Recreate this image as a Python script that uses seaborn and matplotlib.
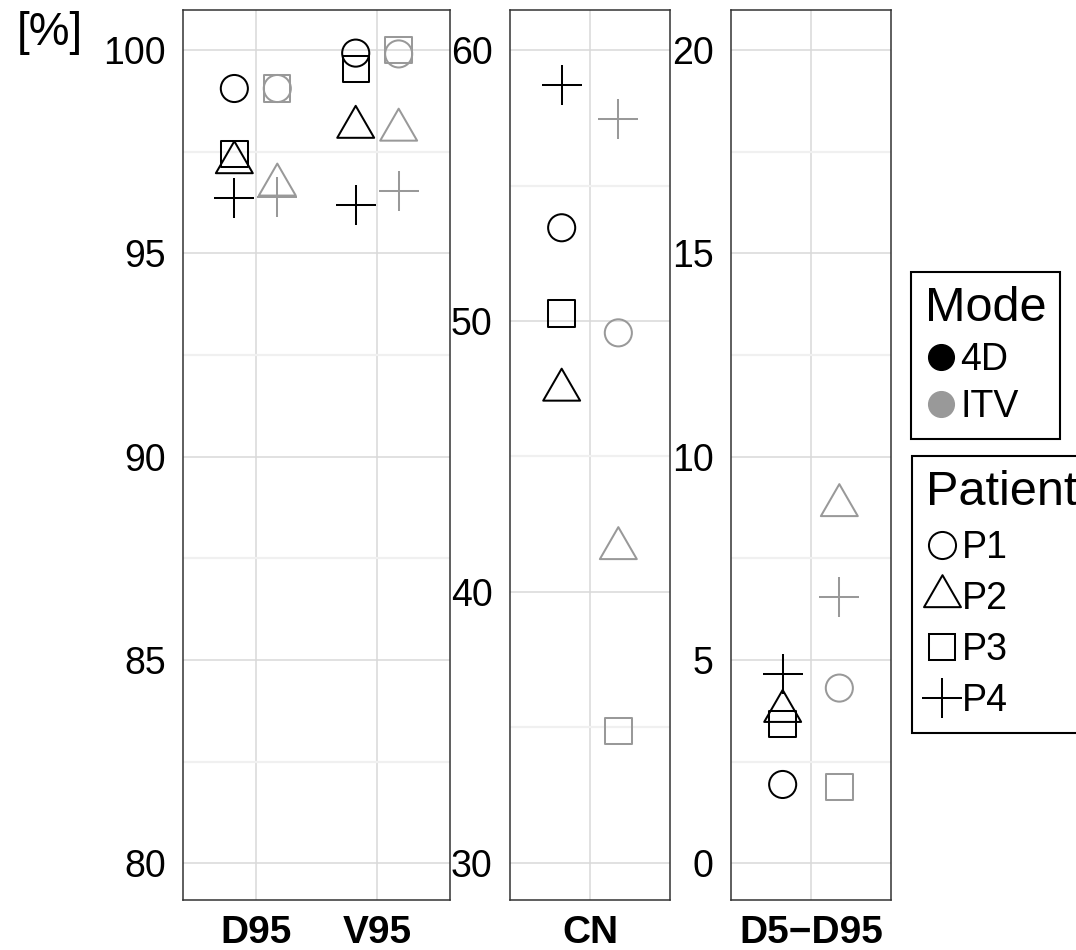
import numpy as np
import pandas as pd
import matplotlib
matplotlib.use("Agg")
import matplotlib.pyplot as plt
from matplotlib.path import Path
from matplotlib.lines import Line2D
import seaborn as sns

# ---- data -------------------------------------------------------------
metrics = ["D95", "V95", "CN", "D5\u2212D95"]
modes = ["4D", "ITV"]
patients = ["P1", "P2", "P3", "P4"]

d95_4d = [99.05, 97.23, 97.44, 96.37]
d95_itv = [99.05, 96.68, 99.05, 96.39]
v95_4d = [99.92, 98.10, 99.53, 96.19]
v95_itv = [99.90, 98.03, 100.00, 96.54]
cn_4d = [53.44, 47.45, 50.28, 58.71]
cn_itv = [49.56, 41.60, 34.86, 57.44]
d5d95_4d = [1.94, 3.74, 3.42, 4.66]
d5d95_itv = [4.31, 8.80, 1.88, 6.56]

panel_metrics = [["D95", "V95"], ["CN"], ["D5\u2212D95"]]
panel_yticks = [[80, 85, 90, 95, 100], [30, 40, 50, 60], [0, 5, 10, 15, 20]]
panel_ylims = [(79.10, 100.98), (28.62, 61.48), (-0.90, 20.98)]

# ---- long table -------------------------------------------------------
series = {
    "D95": (d95_4d, d95_itv),
    "V95": (v95_4d, v95_itv),
    "CN": (cn_4d, cn_itv),
    "D5\u2212D95": (d5d95_4d, d5d95_itv),
}
rows = []
for metric in metrics:
    for mode, vals in zip(modes, series[metric]):
        for patient, v in zip(patients, vals):
            rows.append({"metric": metric, "Mode": mode, "Patient": patient, "value": v})
df = pd.DataFrame(rows)

# ---- style ------------------------------------------------------------
sns.set_style("white")
plt.rcParams["font.family"] = ["Liberation Sans", "DejaVu Sans"]
plt.rcParams["text.color"] = "black"
plt.rcParams["axes.labelcolor"] = "black"
plt.rcParams["xtick.color"] = "black"
plt.rcParams["ytick.color"] = "black"

mode_colors = {"4D": "#000000", "ITV": "#999999"}
tri_path = Path([(0, 1), (-0.866, -0.5), (0.866, -0.5), (0, 1)],
                [Path.MOVETO, Path.LINETO, Path.LINETO, Path.CLOSEPOLY])
patient_markers = {
    "P1": dict(marker="o", size=19.5, filled=True),
    "P2": dict(marker=tri_path, size=30.7, filled=True),
    "P3": dict(marker="s", size=19.0, filled=True),
    "P4": dict(marker="+", size=29.5, filled=False),
}
LW = 1.45
BORDER = "#333333"

W, H = 1076, 950
fig = plt.figure(figsize=(W / 100, H / 100), dpi=100)
fig.patch.set_facecolor("white")


def px_axes(x0, x1, y0, y1):
    return fig.add_axes([x0 / W, 1 - y1 / H, (x1 - x0) / W, (y1 - y0) / H])


panel_boxes = [(183, 450, 10, 900), (510, 670, 10, 900), (731, 891, 10, 900)]
dodges = [0.177, 0.2125, 0.2125]

for box, group, yticks, ylim, dodge in zip(panel_boxes, panel_metrics,
                                           panel_yticks, panel_ylims, dodges):
    ax = px_axes(*box)
    sub = df[df["metric"].isin(group)].copy()
    cat_index = {m: i for i, m in enumerate(group)}
    sub["x"] = sub["metric"].map(cat_index) + sub["Mode"].map({"4D": -dodge, "ITV": dodge})

    for patient in patients:
        st = patient_markers[patient]
        for mode in modes:
            d = sub[(sub["Patient"] == patient) & (sub["Mode"] == mode)]
            col = mode_colors[mode]
            if st["filled"]:
                sns.scatterplot(data=d, x="x", y="value", ax=ax, marker=st["marker"],
                                s=st["size"] ** 2, color=col, facecolor="none",
                                edgecolor=col, linewidth=LW, legend=False, zorder=3)
            else:
                sns.scatterplot(data=d, x="x", y="value", ax=ax, marker=st["marker"],
                                s=st["size"] ** 2, color=col, linewidth=LW,
                                legend=False, zorder=3)

    ax.set_xlim(-0.6, len(group) - 1 + 0.6)
    ax.set_ylim(*ylim)
    ax.set_xlabel("")
    ax.set_ylabel("")
    ax.set_xticks(range(len(group)))
    ax.set_xticklabels(group, fontsize=28, fontweight="bold")
    ax.set_yticks(yticks)
    ax.set_yticklabels([str(t) for t in yticks], fontsize=27)
    minor = [(a + b) / 2 for a, b in zip(yticks[:-1], yticks[1:])]
    ax.set_yticks(minor, minor=True)
    ax.set_axisbelow(True)
    ax.grid(which="major", axis="both", color="#D9D9D9", linewidth=1.1)
    ax.grid(which="minor", axis="y", color="#F0F0F0", linewidth=1.6)
    ax.tick_params(which="major", length=5.5, width=1.1, color=BORDER, pad=7,
                   labelcolor="black")
    ax.tick_params(axis="x", pad=5)
    ax.tick_params(which="minor", length=0)
    for sp in ax.spines.values():
        sp.set_visible(True)
        sp.set_color(BORDER)
        sp.set_linewidth(1.1)

fig.text(17 / W, 1 - 45 / H, "[%]", fontsize=33, ha="left", va="baseline",
         color="black")

# ---- legends ----------------------------------------------------------
mode_handles = [Line2D([], [], ls="none", marker="o", markersize=18.5,
                       markerfacecolor=mode_colors[m], markeredgecolor=mode_colors[m])
                for m in modes]
patient_handles = []
for p in patients:
    st = patient_markers[p]
    if st["filled"]:
        h = Line2D([], [], ls="none", marker=st["marker"], markersize=st["size"],
                   markerfacecolor="none", markeredgecolor="black", markeredgewidth=LW)
    else:
        h = Line2D([], [], ls="none", marker=st["marker"], markersize=st["size"],
                   color="black", markeredgewidth=LW)
    patient_handles.append(h)

legend_kw = dict(loc="upper left", frameon=True, fancybox=False, edgecolor="black",
                 framealpha=1, fontsize=27, title_fontsize=35, alignment="left",
                 borderpad=0.37, handlelength=0.85,
                 handletextpad=0.1, borderaxespad=0, labelcolor="black")
leg1 = fig.legend(handles=mode_handles, labels=modes, title="Mode",
                  bbox_to_anchor=(911 / W, 1 - 272 / H), labelspacing=0.3,
                  **legend_kw)
leg2 = fig.legend(handles=patient_handles, labels=patients, title="Patient",
                  bbox_to_anchor=(912 / W, 1 - 456 / H), labelspacing=0.4,
                  **legend_kw)
for leg in (leg1, leg2):
    leg.get_frame().set_linewidth(1.5)
    leg.get_title().set_color("black")

fig.savefig("out.png", dpi=100, facecolor="white")
